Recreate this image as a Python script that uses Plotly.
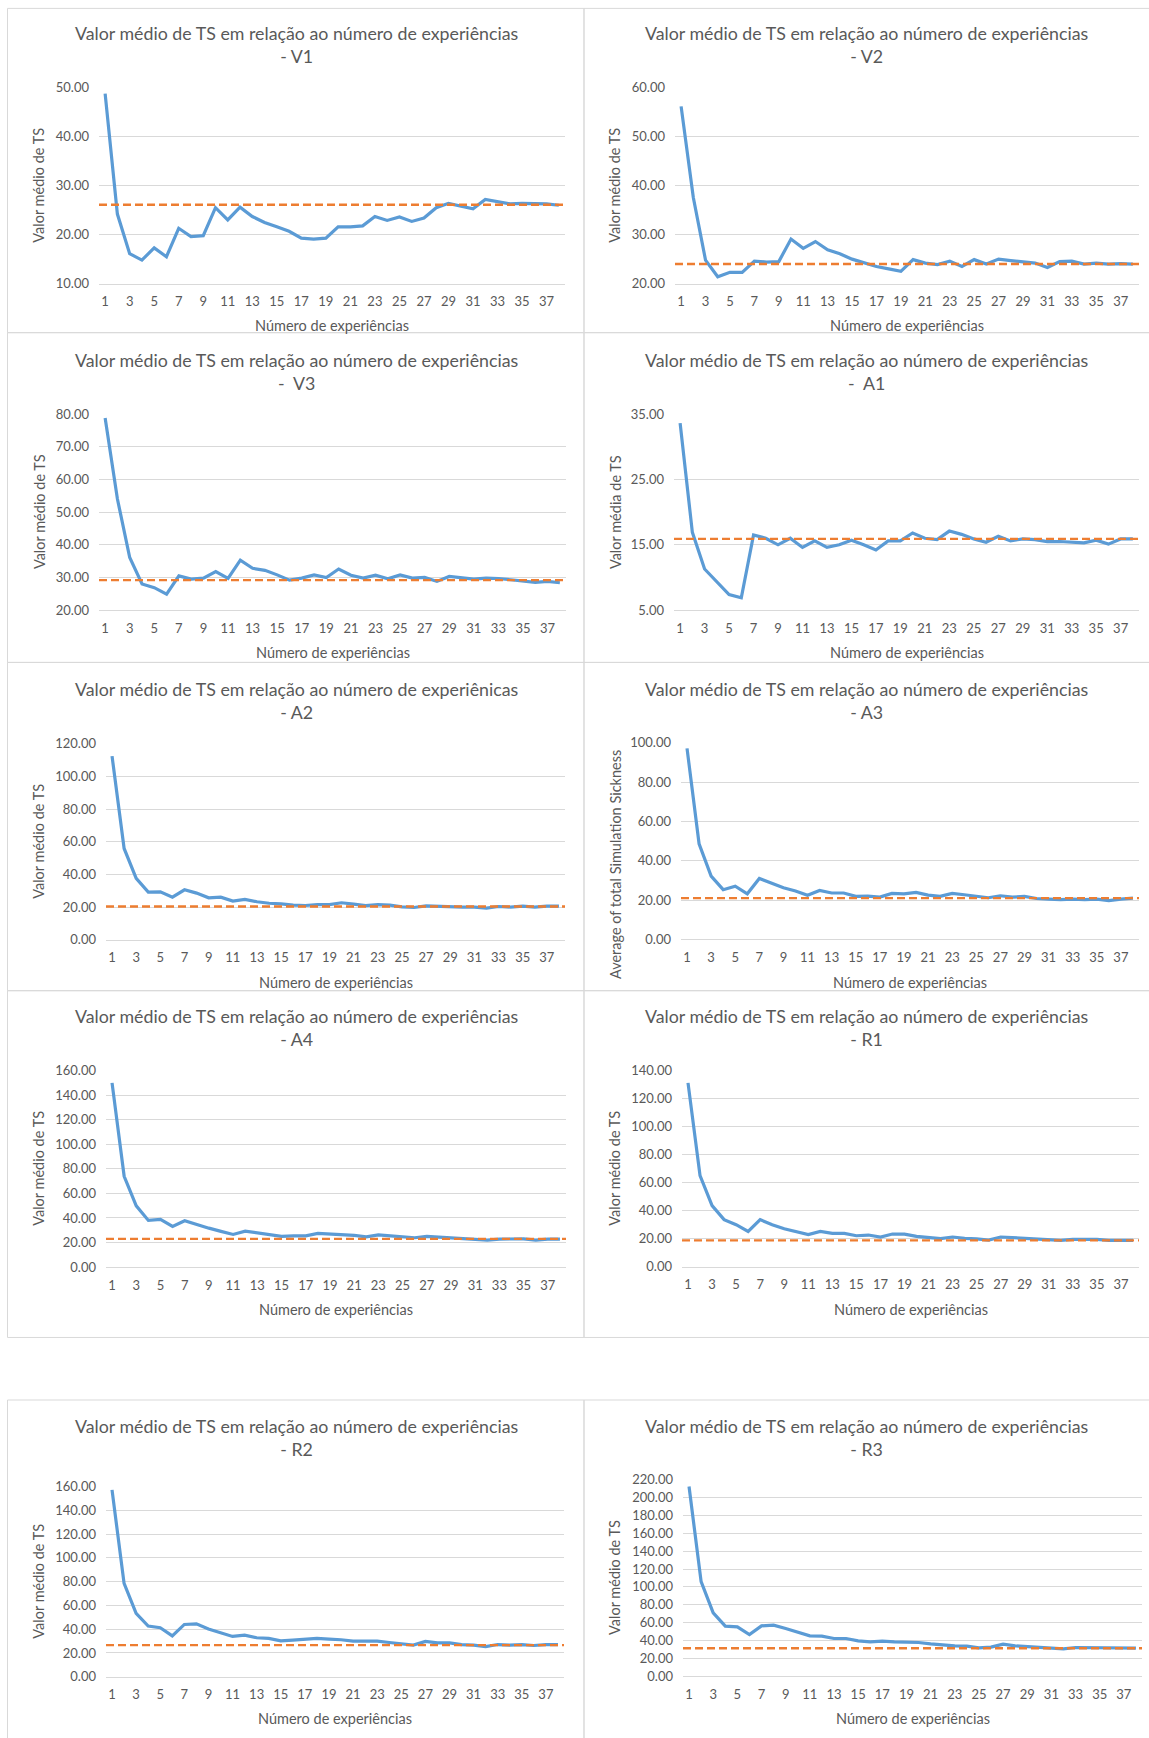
import plotly.graph_objects as go

# ---------------- data ----------------
experiences = list(range(1, 39))
x_tick_values = [1, 3, 5, 7, 9, 11, 13, 15, 17, 19, 21, 23, 25, 27, 29, 31, 33, 35, 37]
x_tick_labels = [str(v) for v in x_tick_values]

v1 = [48.8, 24.2, 16.1, 14.8, 17.3, 15.5, 21.3, 19.6, 19.8, 25.5, 23.0, 25.6, 23.7, 22.5, 21.6, 20.7, 19.3, 19.1, 19.3,
      21.6, 21.6, 21.8, 23.7, 22.9, 23.6, 22.7, 23.4, 25.5, 26.4, 25.9, 25.3, 27.2, 26.8, 26.3, 26.4, 26.3, 26.3, 26.0]
v2 = [56.2, 37.6, 24.8, 21.4, 22.3, 22.3, 24.6, 24.4, 24.5, 29.1, 27.2, 28.6, 26.9, 26.1, 25.0, 24.2, 23.5, 23.0, 22.5,
      24.9, 24.2, 23.9, 24.6, 23.5, 24.9, 24.0, 25.0, 24.7, 24.5, 24.2, 23.3, 24.5, 24.6, 24.0, 24.2, 24.0, 24.1, 24.0]
v3 = [78.8, 54.0, 36.1, 28.0, 26.9, 24.9, 30.5, 29.5, 29.8, 31.8, 29.7, 35.3, 32.8, 32.2, 30.8, 29.2, 29.8, 30.8, 30.0,
      32.6, 30.7, 29.8, 30.7, 29.6, 30.8, 29.8, 30.0, 28.8, 30.3, 30.0, 29.5, 29.8, 29.7, 29.3, 28.8, 28.5, 28.8, 28.4]
a1 = [33.6, 16.9, 11.3, 9.4, 7.4, 6.9, 16.5, 16.0, 15.0, 16.0, 14.6, 15.6, 14.6, 15.0, 15.7, 15.0, 14.2, 15.6, 15.6,
      16.8, 16.0, 15.8, 17.1, 16.6, 15.9, 15.4, 16.3, 15.6, 15.9, 15.8, 15.5, 15.5, 15.4, 15.3, 15.7, 15.1, 15.9, 15.9]
a2 = [112.4, 55.9, 37.6, 29.2, 29.4, 26.1, 30.6, 28.6, 25.7, 26.1, 23.7, 24.7, 23.3, 22.4, 22.0, 21.2, 21.0, 21.6, 21.6,
      22.7, 21.8, 21.0, 21.6, 21.2, 20.2, 19.8, 20.8, 20.4, 20.0, 20.0, 20.0, 19.4, 20.4, 20.0, 20.6, 20.0, 20.6, 20.6]
a3 = [97.1, 48.6, 32.2, 25.3, 27.1, 23.2, 31.0, 28.5, 26.3, 24.6, 22.5, 24.9, 23.6, 23.6, 21.9, 22.0, 21.5, 23.4, 23.2,
      23.9, 22.5, 21.9, 23.4, 22.7, 21.9, 21.2, 22.2, 21.5, 21.9, 20.8, 20.5, 20.2, 20.5, 20.2, 20.5, 19.7, 20.5, 21.0]
a4 = [150.0, 73.9, 49.9, 38.0, 38.8, 33.1, 37.7, 34.5, 31.7, 29.1, 26.6, 29.3, 27.7, 26.6, 25.0, 25.5, 25.5, 27.4, 26.8,
      26.8, 25.8, 24.7, 26.3, 25.5, 24.4, 23.9, 25.0, 24.4, 24.4, 23.6, 22.8, 22.0, 22.8, 22.8, 23.0, 22.0, 22.8, 22.8]
r1 = [131.2, 65.0, 43.6, 33.6, 30.0, 25.2, 33.6, 30.0, 27.1, 24.8, 22.9, 25.2, 23.8, 23.8, 22.1, 22.6, 21.2, 23.3, 23.3,
      21.7, 21.0, 20.0, 21.2, 20.2, 19.8, 19.0, 21.2, 20.7, 20.7, 20.0, 19.3, 18.8, 19.5, 19.5, 19.5, 18.8, 18.8, 18.8]
r2 = [157.2, 78.5, 53.3, 42.6, 41.2, 34.4, 44.0, 44.5, 40.1, 37.2, 33.9, 35.0, 32.8, 32.2, 30.2, 30.8, 31.3, 32.2, 31.6,
      31.1, 29.9, 29.9, 29.9, 28.8, 27.4, 26.6, 29.7, 28.5, 28.5, 27.1, 26.6, 25.4, 27.1, 26.6, 27.1, 26.3, 27.1, 27.1]
r3 = [212.5, 105.8, 70.9, 56.0, 55.2, 46.6, 56.3, 57.1, 53.3, 48.8, 45.1, 44.7, 42.1, 42.1, 39.5, 38.4, 39.1, 38.4, 38.4,
      37.6, 36.1, 34.6, 33.9, 33.5, 31.6, 32.4, 35.8, 33.9, 33.2, 32.4, 31.6, 30.5, 32.0, 32.0, 32.0, 31.2, 32.0, 31.2]

panel_names = ["V1", "V2", "V3", "A1", "A2", "A3", "A4", "R1", "R2", "R3"]
series_values = [v1, v2, v3, a1, a2, a3, a4, r1, r2, r3]
mean_values = [26.1, 24.0, 29.2, 15.9, 20.4, 21.0, 23.0, 18.8, 26.6, 31.2]

title_main = "Valor médio de TS em relação ao número de experiências"
title_main_a2 = "Valor médio de TS em relação ao número de experiênicas"
title_suffixes = ["- V1", "- V2", "-\u00a0 V3", "-\u00a0 A1", "- A2", "- A3", "- A4", "- R1", "- R2", "- R3"]
y_titles = ["Valor médio de TS", "Valor médio de TS", "Valor médio de TS", "Valor média de TS",
            "Valor médio de TS", "Average of total Simulation Sickness", "Valor médio de TS",
            "Valor médio de TS", "Valor médio de TS", "Valor médio de TS"]
x_title = "Número de experiências"
y_ranges = [(10, 50, 10), (20, 60, 10), (20, 80, 10), (5, 35, 10), (0, 120, 20),
            (0, 100, 20), (0, 160, 20), (0, 140, 20), (0, 160, 20), (0, 220, 20)]

# ---------------- layout (pixel geometry) ----------------
W, H = 1149, 1738
FONT = "Lato"
GREY = "#595959"
GRID = "#d9d9d9"
BLUE = "#5B9BD5"
ORANGE = "#ED7D31"

def px(x):
    return x / W

def py(y):
    # compensate the small vertical offset/scale observed in the rendered page
    yy = (y - 7.6) / 0.99
    return 1 - yy / H

# plot areas: (x0, x1, ytop, ybottom)
plot_boxes = [
    (99, 565, 87.3, 283.0), (675, 1139, 87.3, 283.0),
    (99, 566, 413.3, 609.3), (674, 1139, 413.3, 609.3),
    (106, 565, 742.7, 938.7), (681, 1139, 741.7, 938.3),
    (106, 566, 1069.3, 1265.7), (682, 1139, 1069.3, 1265.3),
    (106, 564, 1485.0, 1675.0), (683, 1142, 1478.3, 1674.3),
]
rows = [(8, 332), (332, 661.5), (661.5, 989.5), (989.5, 1336), (1398.5, 1760)]
title_centers = [44.5, 371, 700, 1026.5, 1435.5]
xtitle_centers = [325, 652, 981, 1308, 1717]
ytitle_x = [39, 615]
ytitle_y_override = {5: 864}

fig = go.Figure()
shapes = []
annotations = []

for i, (name, vals, mean) in enumerate(zip(panel_names, series_values, mean_values)):
    n = i + 1
    xa = "x" if n == 1 else f"x{n}"
    ya = "y" if n == 1 else f"y{n}"
    x0, x1, yt, yb = plot_boxes[i]
    ymin, ymax, dt = y_ranges[i]
    row = i // 2
    col = i % 2

    fig.add_trace(go.Scatter(
        x=experiences, y=vals, mode="lines", xaxis=xa, yaxis=ya,
        line=dict(color=BLUE, width=3.2), name=name, hoverinfo="skip"))

    # average line spanning the whole plot width (data y, axis-domain x)
    shapes.append(dict(type="line", xref=f"{xa} domain", yref=ya, x0=0, x1=1, y0=mean, y1=mean,
                       line=dict(color=ORANGE, width=2.4, dash="8px,4px"), layer="above"))

    xkey = "xaxis" if n == 1 else f"xaxis{n}"
    ykey = "yaxis" if n == 1 else f"yaxis{n}"
    fig.update_layout(**{
        xkey: dict(domain=[px(x0), px(x1)], anchor=ya, range=[0.5, 38.5],
                   tickmode="array", tickvals=x_tick_values, ticktext=x_tick_labels,
                   showgrid=False, zeroline=False, showline=True, linecolor=GRID, linewidth=1,
                   ticks="", ticklabelstandoff=6,
                   tickfont=dict(family=FONT, size=13, color=GREY), fixedrange=True),
        ykey: dict(domain=[py(yb), py(yt)], anchor=xa, range=[ymin, ymax], dtick=dt,
                   tick0=ymin, tickformat=".2f", showgrid=True, gridcolor=GRID, gridwidth=1,
                   zeroline=False, showline=False, ticks="", ticklabelstandoff=9,
                   tickfont=dict(family=FONT, size=13, color=GREY), fixedrange=True),
    })

    fx0, fx1 = (7.5, 584) if col == 0 else (584, 1152)
    ry0, ry1 = rows[row]
    shapes.append(dict(type="rect", xref="paper", yref="paper",
                       x0=px(fx0), x1=px(fx1), y0=py(ry1), y1=py(ry0),
                       line=dict(color=GRID, width=1), layer="below"))

    main = title_main_a2 if name == "A2" else title_main
    cx = 296 if col == 0 else 866
    annotations.append(dict(text=main + "<br>" + title_suffixes[i], xref="paper", yref="paper",
                            x=px(cx), y=py(title_centers[row]), xanchor="center", yanchor="middle",
                            showarrow=False, font=dict(family=FONT, size=17.8, color=GREY)))
    annotations.append(dict(text=x_title, xref="paper", yref="paper",
                            x=px((x0 + x1) / 2), y=py(xtitle_centers[row]),
                            xanchor="center", yanchor="middle", showarrow=False,
                            font=dict(family=FONT, size=14.5, color=GREY)))
    yc = ytitle_y_override.get(i, (yt + yb) / 2)
    annotations.append(dict(text=y_titles[i], xref="paper", yref="paper",
                            x=px(ytitle_x[col]), y=py(yc), xanchor="center", yanchor="middle",
                            textangle=-90, showarrow=False,
                            font=dict(family=FONT, size=14.5, color=GREY)))

fig.update_layout(width=W, height=H, margin=dict(l=0, r=0, t=0, b=0),
                  paper_bgcolor="white", plot_bgcolor="white", showlegend=False,
                  shapes=shapes, annotations=annotations)

fig.write_html("out.html", config={"responsive": False, "displayModeBar": False},
               post_script="document.body.style.margin='0';document.body.style.overflow='hidden';")
